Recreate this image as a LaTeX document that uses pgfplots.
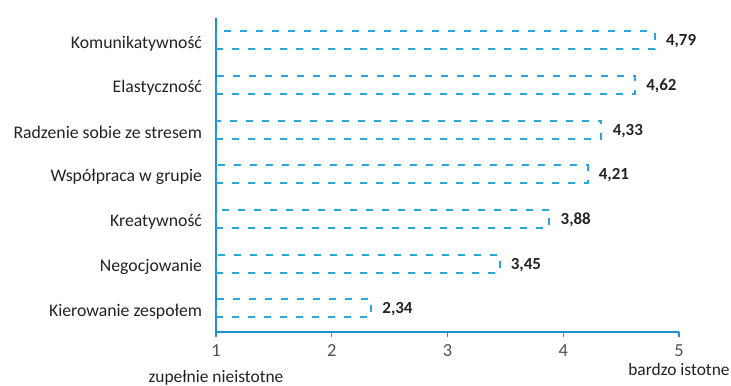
\documentclass[border=0pt]{standalone}
\usepackage{fontspec}
\setmainfont{Carlito}
\usepackage{pgfplots}
\pgfplotsset{compat=1.18}
\definecolor{axisblue}{RGB}{30,143,208}
\definecolor{barblue}{RGB}{42,166,223}
\definecolor{txt}{RGB}{35,35,35}
\newcommand{\tl}[1]{{\fontsize{18.5}{20}\selectfont #1}}
\begin{document}
\begin{tikzpicture}
\begin{axis}[
  scale only axis,
  width=463bp, height=313.5bp,
  xmin=1, xmax=5,
  ymin=-0.53, ymax=6.49,
  axis x line=bottom,
  axis y line=left,
  x axis line style={-, axisblue, line width=1.3bp},
  y axis line style={-, axisblue, line width=1.3bp},
  /pgf/number format/assume math mode=true,
  xtick={1,2,3,4,5},
  xticklabels={\tl{1},\tl{2},\tl{3},\tl{4},\tl{5}},
  xtick style={draw=axisblue, line width=1.2bp},
  xtick align=outside,
  major tick length=5bp,
  xticklabel style={text=txt!80, yshift=-4bp},
  ytick={0,1,2,3,4,5,6},
  yticklabels={Kierowanie zespołem,Negocjowanie,Kreatywność,Współpraca w grupie,Radzenie sobie ze stresem,Elastyczność,Komunikatywność},
  ytick style={draw=none},
  yticklabel style={font=\fontsize{17.8}{20}\selectfont, text=txt, xshift=-8bp, yshift=-3bp},
  clip=true,
]
\addplot[xbar, bar width=18bp, draw=barblue, fill=none, line width=2bp, dash pattern=on 7bp off 9bp,
  point meta=explicit,
  nodes near coords={\pgfmathprintnumber[fixed,fixed zerofill,precision=2,use comma,assume math mode=true]{\pgfplotspointmeta}},
  nodes near coords style={font=\bfseries\fontsize{17}{19}\selectfont, text=txt, anchor=west, xshift=7bp, yshift=-1bp, solid},
]
  coordinates {
    (2.34,0) [2.34]
    (3.45,1) [3.45]
    (3.88,2) [3.88]
    (4.21,3) [4.21]
    (4.33,4) [4.33]
    (4.62,5) [4.62]
    (4.79,6) [4.79]
  };
\end{axis}
\node[font=\fontsize{17.5}{19}\selectfont, text=txt] at ([yshift=-46bp]current axis.south west) {zupełnie nieistotne};
\node[font=\fontsize{17.5}{19}\selectfont, text=txt] at ([yshift=-38bp]current axis.south east) {bardzo istotne};
\pgfresetboundingbox
\path[use as bounding box] ([xshift=-216bp,yshift=-54bp]current axis.south west) rectangle ++(731bp,386bp);
\end{tikzpicture}
\end{document}
